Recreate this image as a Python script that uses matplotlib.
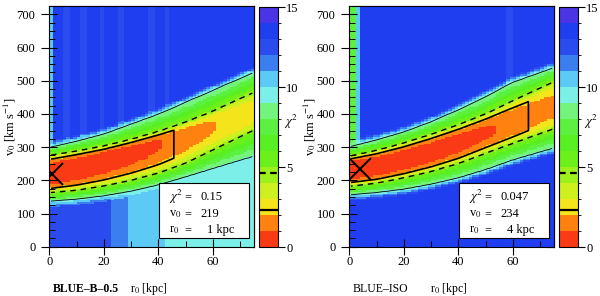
import numpy as np
import matplotlib
matplotlib.use('Agg')
import matplotlib.pyplot as plt
from matplotlib.colors import ListedColormap, BoundaryNorm
from matplotlib.ticker import MultipleLocator
from matplotlib.patches import Rectangle

plt.rcParams['font.family'] = ['Liberation Serif', 'DejaVu Serif']
plt.rcParams['mathtext.fontset'] = 'stix'

# ---------------- data ----------------
chi_levels = list(range(16))
level_colors = ['#fa3a14', '#ff8210', '#f4e41c', '#cdf01e', '#9cf01c',
                '#6cf01a', '#58f022', '#5cf040', '#74f47c', '#7cf0e8',
                '#5ccaf4', '#3a7ef0', '#2a4cee', '#1f3ef0', '#4a34e6']
contour_1sig = 2.3
contour_90 = 4.61
contour_99 = 9.21

panel_names = ['BLUE–B–0.5', 'BLUE–ISO']
panel_bold = [True, False]
best_chi2 = ['0.15', '0.047']
best_v0 = [219, 234]
best_r0 = [1, 4]

r0_knots = [0, 10, 20, 30, 40, 50, 60, 75]

# BLUE-B-0.5
b05_v_center = [219, 240, 262, 287, 311, 337, 365, 408]
b05_chi2_min = [0.15, 0.2, 0.35, 0.6, 0.95, 1.45, 1.95, 2.6]
b05_v_up_90 = [275, 288, 303, 323, 347, 375, 408, 465]
b05_v_lo_90 = [163, 170, 183, 200, 222, 252, 292, 352]
b05_v_up_99 = [299, 318, 340, 370, 400, 436, 472, 526]
b05_v_lo_99 = [137, 143, 153, 167, 186, 210, 235, 272]
b05_1sig_end = 46
b05_bg_up_edges = [0, 1.5, 5.5, 7.5, 11.5, 13.5, 18.5, 20, 25, 28, 36.5, 39, 42, 44, 75]
b05_bg_up_vals = [10.5, 13.5, 12.5, 13.5, 12.5, 13.5, 12.5, 13.5, 12.5, 13.5, 12.5, 13.5, 12.5, 13.5]
b05_bg_lo_edges = [0, 22, 28.8, 42.6, 75]
b05_bg_lo_vals = [12.5, 11.5, 10.5, 9.5]

# BLUE-ISO
iso_v_center = [234, 243, 262, 286, 313, 343, 372, 420]
iso_chi2_min = [0.05, 0.1, 0.2, 0.35, 0.55, 0.85, 1.2, 1.7]
iso_v_up_90 = [272, 290, 312, 338, 367, 400, 440, 497]
iso_v_lo_90 = [182, 192, 208, 227, 251, 282, 312, 356]
iso_v_up_99 = [301, 322, 346, 377, 413, 453, 496, 540]
iso_v_lo_99 = [156, 163, 173, 188, 207, 232, 261, 297]
iso_1sig_end = 66.5
iso_bg_up_edges = [0, 2.7, 4, 57, 60, 75]
iso_bg_up_vals = [7.5, 10.5, 13.5, 12.5, 13.5]
iso_bg_lo_edges = [0, 75]
iso_bg_lo_vals = [13.5]

panels = [
    dict(center=b05_v_center, cmin=b05_chi2_min, up90=b05_v_up_90, lo90=b05_v_lo_90,
         up99=b05_v_up_99, lo99=b05_v_lo_99, end=b05_1sig_end,
         bgu=(b05_bg_up_edges, b05_bg_up_vals), bgl=(b05_bg_lo_edges, b05_bg_lo_vals)),
    dict(center=iso_v_center, cmin=iso_chi2_min, up90=iso_v_up_90, lo90=iso_v_lo_90,
         up99=iso_v_up_99, lo99=iso_v_lo_99, end=iso_1sig_end,
         bgu=(iso_bg_up_edges, iso_bg_up_vals), bgl=(iso_bg_lo_edges, iso_bg_lo_vals)),
]

R_MAX, V_MAX = 75, 725
r_edges = np.linspace(0, R_MAX, 61)
v_edges = np.arange(0, V_MAX + 1, 5)
rc = 0.5 * (r_edges[1:] + r_edges[:-1])
vc = 0.5 * (v_edges[1:] + v_edges[:-1])


def zone_value(r, edges, vals):
    idx = np.clip(np.searchsorted(edges, r, side='right') - 1, 0, len(vals) - 1)
    return np.asarray(vals)[idx]


def build_field(p, plain=False):
    R, V = np.meshgrid(rc, vc)
    c = np.interp(R, r0_knots, p['center'])
    cm = np.interp(R, r0_knots, p['cmin'])
    up = V >= c
    a90 = np.where(up, np.interp(R, r0_knots, p['up90']) - c, c - np.interp(R, r0_knots, p['lo90']))
    a99 = np.where(up, np.interp(R, r0_knots, p['up99']) - c, c - np.interp(R, r0_knots, p['lo99']))
    if plain:
        bg = np.full_like(R, 13.5)
    else:
        bg = np.where(up, zone_value(R, *p['bgu']), zone_value(R, *p['bgl']))
    d = np.abs(V - c)
    f = np.where(d <= a90, cm + (contour_90 - cm) * (d / a90) ** 3,
                 contour_90 + (contour_99 - contour_90) * (d - a90) / (a99 - a90))
    ramp = 20.0
    out = contour_99 + (d - a99) / ramp * (bg - contour_99)
    out = np.where(bg >= contour_99, np.minimum(out, bg), np.maximum(out, bg))
    f = np.where(d > a99, out, f)
    return f


cmap = ListedColormap(level_colors)
norm = BoundaryNorm(chi_levels, cmap.N)

fig = plt.figure(figsize=(6.0, 2.96), dpi=100)
W, H = 600.0, 296.0
ax_left_px = [49.3, 349.3]
cb_left_px = [259.0, 559.0]
FS = 8.5

for i, p in enumerate(panels):
    ax = fig.add_axes([ax_left_px[i] / W, (H - 246.7) / H, 204.7 / W, 240.7 / H])
    F = build_field(p)
    Fc = build_field(p, plain=True)
    R, V = np.meshgrid(rc, vc)
    F1 = np.where(R > p['end'], 99.0, Fc)
    pcm = ax.pcolormesh(r_edges, v_edges, F, cmap=cmap, norm=norm, shading='flat',
                        rasterized=True)
    ax.contour(rc, vc, Fc, levels=[contour_99], colors='k', linewidths=0.6)
    ax.contour(rc, vc, Fc, levels=[contour_90], colors='k', linewidths=1.0,
               linestyles=[(0, (4, 3.5))])
    ax.contour(rc, vc, F1, levels=[contour_1sig], colors='k', linewidths=1.2)
    ax.plot([best_r0[i]], [best_v0[i]], marker='x', color='k', ms=16, mew=1.4,
            linestyle='none', clip_on=True, zorder=5)
    ax.set_xlim(0, R_MAX)
    ax.set_ylim(0, V_MAX)
    ax.set_xticks([0, 20, 40, 60])
    ax.set_yticks(range(0, 701, 100))
    ax.xaxis.set_minor_locator(MultipleLocator(10))
    ax.yaxis.set_minor_locator(MultipleLocator(25))
    ax.tick_params(which='major', direction='inout', length=12, width=0.8,
                   labelsize=FS + 0.5, pad=1)
    ax.tick_params(axis='y', which='major', pad=4)
    ax.tick_params(which='minor', direction='in', length=4, width=0.7)
    for sp in ax.spines.values():
        sp.set_linewidth(0.8)
    sx = ax.secondary_xaxis('top')
    sx.set_xticks([0, 20, 40, 60])
    sx.xaxis.set_minor_locator(MultipleLocator(10))
    sx.tick_params(which='major', direction='in', length=6, width=0.8, labeltop=False)
    sx.tick_params(which='minor', direction='in', length=4, width=0.7)
    sy = ax.secondary_yaxis('right')
    sy.set_yticks(range(0, 701, 100))
    sy.yaxis.set_minor_locator(MultipleLocator(25))
    sy.tick_params(which='major', direction='in', length=6, width=0.8, labelright=False)
    sy.tick_params(which='minor', direction='in', length=4, width=0.7)

    ax.set_ylabel(r'v$_0$ [km s$^{-1}$]', fontsize=FS + 0.5)
    ax.yaxis.set_label_coords(-0.155, 0.5)

    # info box
    ax.add_patch(Rectangle((0.536, 0.036), 0.44, 0.229, transform=ax.transAxes,
                           facecolor='white', edgecolor='k', lw=0.8, zorder=6))
    ys = [0.206, 0.137, 0.068]
    ax.text(0.585, ys[0], r'$\chi^2$', transform=ax.transAxes, fontsize=FS + 0.5,
            va='center', ha='left', zorder=7)
    ax.text(0.585, ys[1], r'v$_0$', transform=ax.transAxes, fontsize=FS + 0.5,
            va='center', ha='left', zorder=7)
    ax.text(0.585, ys[2], r'r$_0$', transform=ax.transAxes, fontsize=FS + 0.5,
            va='center', ha='left', zorder=7)
    for y in ys:
        ax.text(0.675, y, '=', transform=ax.transAxes, fontsize=FS + 0.5,
                va='center', ha='center', zorder=7)
    ax.text(0.74, ys[0], best_chi2[i], transform=ax.transAxes, fontsize=FS + 0.5,
            va='center', ha='left', zorder=7)
    ax.text(0.74, ys[1], str(best_v0[i]), transform=ax.transAxes, fontsize=FS + 0.5,
            va='center', ha='left', zorder=7)
    ax.text(0.905, ys[2], f'{best_r0[i]} kpc', transform=ax.transAxes, fontsize=FS + 0.5,
            va='center', ha='right', zorder=7)

    # colorbar
    cax = fig.add_axes([cb_left_px[i] / W, (H - 247) / H, 19 / W, 240 / H])
    cb = fig.colorbar(pcm, cax=cax, ticks=[0, 5, 10, 15])
    cb.outline.set_linewidth(0.8)
    cax.tick_params(which='major', direction='out', length=5, width=0.8,
                    labelsize=FS + 0.5, pad=1)
    cax.axhline(contour_1sig, color='k', lw=1.6)
    cax.axhline(contour_90, color='k', lw=1.6, ls=(0, (3, 2)))
    cax.text(1.3, 0.52, r'$\chi^2$', transform=cax.transAxes, fontsize=FS + 0.5,
             va='center', ha='left')

    # bottom labels
    fig.text((53 + 300 * i) / W, (H - 289) / H, panel_names[i], fontsize=FS,
             fontweight='bold' if panel_bold[i] else 'normal', va='center', ha='left')
    fig.text((130 + 300 * i) / W, (H - 289) / H, r'r$_0$ [kpc]', fontsize=FS,
             va='center', ha='left')

fig.savefig('out.png', dpi=100)
